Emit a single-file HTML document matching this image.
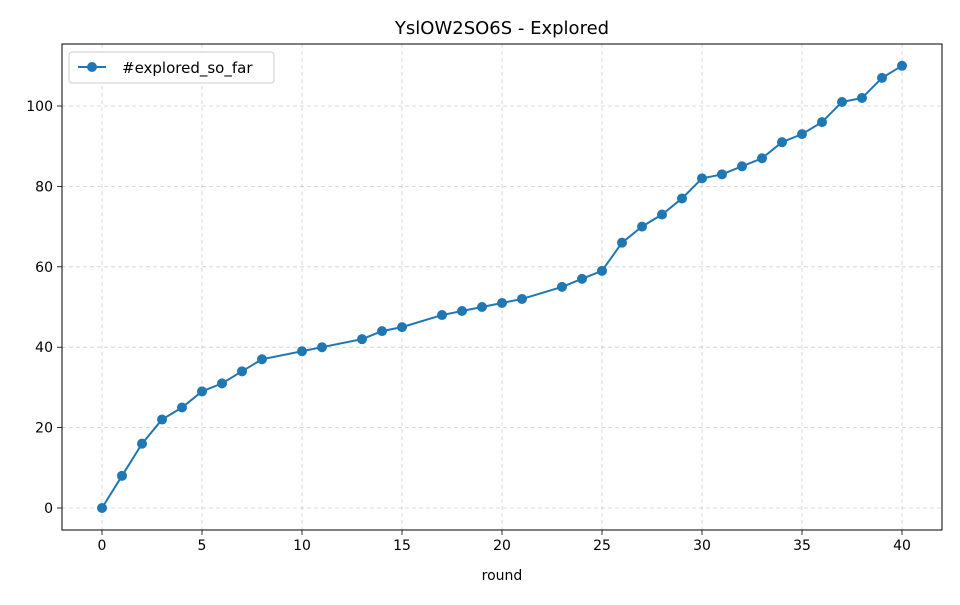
<!DOCTYPE html>
<html><head><meta charset="utf-8"><style>
body{margin:0;background:#fff;font-family:"Liberation Sans","DejaVu Sans",sans-serif;}
svg text{font-family:"DejaVu Sans","Liberation Sans",sans-serif;}
</style></head><body>
<svg id="chart" width="960" height="600" viewBox="0 0 960 600"></svg>
<script>
const rounds = [0,1,2,3,4,5,6,7,8,10,11,13,14,15,17,18,19,20,21,23,24,25,26,27,28,29,30,31,32,33,34,35,36,37,38,39,40];
const explored = [0,8,16,22,25,29,31,34,37,39,40,42,44,45,48,49,50,51,52,55,57,59,66,70,73,77,82,83,85,87,91,93,96,101,102,107,110];
const xTicks = [0,5,10,15,20,25,30,35,40];
const yTicks = [0,20,40,60,80,100];

const L=62,R=942,T=44,B=530;
const xs = v => 102 + v*20;
const ys = v => 508 - v*4.02;
const NS='http://www.w3.org/2000/svg';
const svg=document.getElementById('chart');
function mk(tag, attrs, parent){const e=document.createElementNS(NS,tag);for(const k in attrs)e.setAttribute(k,attrs[k]);(parent||svg).appendChild(e);return e;}

const grid=mk('g',{});


xTicks.forEach(t=>{mk('line',{x1:xs(t),x2:xs(t),y1:T,y2:B,stroke:'#b0b0b0','stroke-width':0.8,'stroke-dasharray':'4,3',opacity:0.6},grid);});
yTicks.forEach(t=>{mk('line',{x1:L,x2:R,y1:ys(t),y2:ys(t),stroke:'#b0b0b0','stroke-width':0.8,'stroke-dasharray':'4,3',opacity:0.6},grid);});

const xa=mk('g',{});


xTicks.forEach(t=>{mk('line',{x1:xs(t),x2:xs(t),y1:B,y2:B+5,stroke:'#000','stroke-width':0.8},xa);
 const tx=mk('text',{x:xs(t),y:B+20,'text-anchor':'middle','font-size':14,fill:'#000'},xa);tx.textContent=t;});
const ya=mk('g',{});


yTicks.forEach(t=>{mk('line',{x1:L-5,x2:L,y1:ys(t),y2:ys(t),stroke:'#000','stroke-width':0.8},ya);
 const tx=mk('text',{x:L-9,y:ys(t)+5,'text-anchor':'end','font-size':14,fill:'#000'},ya);tx.textContent=t;});

const line=mk('polyline',{points:rounds.map((r,i)=>xs(r)+','+ys(explored[i])).join(' '),fill:'none',stroke:'#1f77b4','stroke-width':2});


rounds.forEach((r,i)=>{const c=mk('circle',{cx:xs(r),cy:ys(explored[i]),r:5,fill:'#1f77b4'});
 
 });

const frame=mk('rect',{x:L,y:T,width:R-L,height:B-T,fill:'none',stroke:'#000','stroke-width':1});



const title=mk('text',{x:(L+R)/2,y:34,'text-anchor':'middle','font-size':18,fill:'#000'});
title.textContent='YslOW2SO6S - Explored';


const xl=mk('text',{x:(L+R)/2,y:580,'text-anchor':'middle','font-size':14,fill:'#000'});
xl.textContent='round';



const lg=mk('g',{});


mk('rect',{x:69,y:52,width:205,height:31,rx:3,fill:'#fff',stroke:'#ccc','stroke-width':1},lg);
mk('line',{x1:78,x2:106,y1:67,y2:67,stroke:'#1f77b4','stroke-width':2},lg);
mk('circle',{cx:92,cy:67,r:5,fill:'#1f77b4'},lg);
const lt=mk('text',{x:122,y:73,'font-size':15,fill:'#000'},lg);lt.textContent='#explored_so_far';
</script>
</body></html>
